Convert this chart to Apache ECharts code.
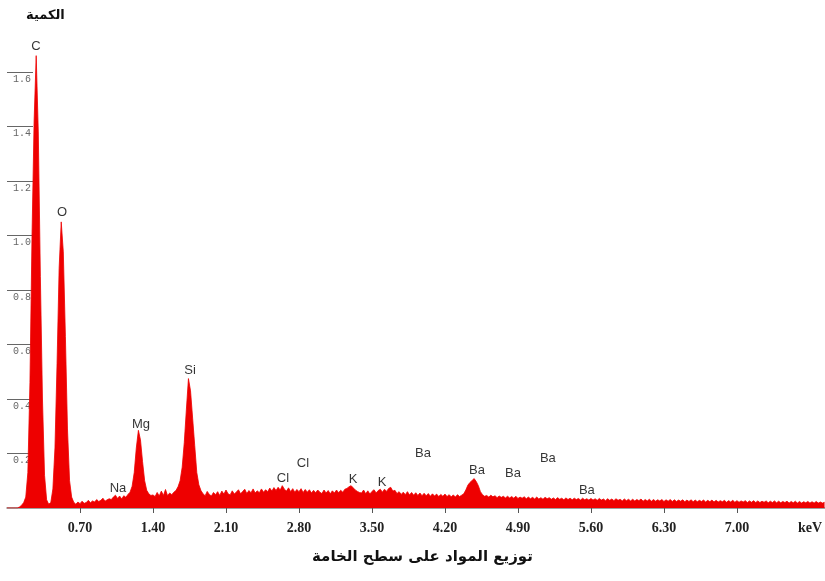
<!DOCTYPE html>
<html>
<head>
<meta charset="utf-8">
<script src="https://cdn.jsdelivr.net/npm/echarts@6/dist/echarts.min.js"></script>
<style>
  html, body { margin: 0; padding: 0; background: #ffffff; }
  #chart { width: 825px; height: 581px; }
</style>
</head>
<body>
<div id="chart"></div>
<script>
// EDS spectrum: counts per channel, channel width 0.02 keV, first channel at 0 keV
const channelStart = 0;
const channelWidth = 0.02;
const counts = [
  0, 0, 0, 0, 0, 0, 0.004, 0.010, 0.020, 0.040,
  0.13, 0.46, 1.00, 1.42, 1.66, 1.38, 0.85, 0.40, 0.12, 0.030,
  0.014, 0.020, 0.07, 0.22, 0.53, 0.88, 1.05, 0.94, 0.63, 0.29,
  0.10, 0.040, 0.021, 0.014, 0.022, 0.016, 0.025, 0.017, 0.020, 0.028,
  0.019, 0.026, 0.022, 0.031, 0.024, 0.028, 0.036, 0.025, 0.030, 0.034,
  0.031, 0.040, 0.047, 0.035, 0.044, 0.033, 0.045, 0.039, 0.050, 0.058,
  0.08, 0.13, 0.22, 0.285, 0.25, 0.17, 0.10, 0.065, 0.052, 0.046,
  0.048, 0.042, 0.057, 0.044, 0.062, 0.046, 0.068, 0.045, 0.055, 0.049,
  0.058, 0.064, 0.078, 0.10, 0.15, 0.24, 0.36, 0.475, 0.43, 0.33,
  0.23, 0.13, 0.085, 0.064, 0.052, 0.045, 0.061, 0.050, 0.044, 0.057,
  0.049, 0.060, 0.046, 0.062, 0.051, 0.066, 0.052, 0.048, 0.063, 0.051,
  0.059, 0.067, 0.052, 0.061, 0.069, 0.053, 0.064, 0.056, 0.070, 0.055,
  0.063, 0.056, 0.070, 0.058, 0.067, 0.060, 0.073, 0.062, 0.075, 0.064,
  0.076, 0.066, 0.082, 0.069, 0.062, 0.074, 0.060, 0.071, 0.058, 0.068,
  0.060, 0.071, 0.057, 0.068, 0.058, 0.067, 0.055, 0.065, 0.056, 0.066,
  0.058, 0.053, 0.066, 0.055, 0.064, 0.052, 0.063, 0.055, 0.066, 0.056,
  0.065, 0.058, 0.069, 0.072, 0.078, 0.082, 0.074, 0.066, 0.061, 0.057,
  0.055, 0.066, 0.052, 0.063, 0.051, 0.061, 0.067, 0.055, 0.064, 0.069,
  0.058, 0.069, 0.061, 0.072, 0.076, 0.062, 0.065, 0.053, 0.060, 0.050,
  0.058, 0.049, 0.060, 0.048, 0.057, 0.047, 0.056, 0.046, 0.055, 0.045,
  0.054, 0.045, 0.053, 0.043, 0.052, 0.044, 0.051, 0.042, 0.050, 0.043,
  0.051, 0.042, 0.049, 0.041, 0.048, 0.040, 0.049, 0.042, 0.047, 0.052,
  0.066, 0.084, 0.094, 0.101, 0.108, 0.097, 0.082, 0.060, 0.049, 0.043,
  0.046, 0.040, 0.047, 0.041, 0.045, 0.038, 0.044, 0.039, 0.043, 0.037,
  0.043, 0.037, 0.042, 0.036, 0.043, 0.035, 0.040, 0.036, 0.041, 0.034,
  0.040, 0.034, 0.039, 0.033, 0.040, 0.033, 0.038, 0.032, 0.039, 0.034,
  0.038, 0.032, 0.037, 0.031, 0.038, 0.032, 0.036, 0.030, 0.037, 0.031,
  0.036, 0.030, 0.036, 0.031, 0.035, 0.029, 0.036, 0.030, 0.034, 0.029,
  0.035, 0.029, 0.034, 0.028, 0.035, 0.029, 0.033, 0.027, 0.034, 0.028,
  0.033, 0.027, 0.034, 0.028, 0.032, 0.026, 0.033, 0.027, 0.032, 0.026,
  0.032, 0.026, 0.031, 0.027, 0.033, 0.025, 0.031, 0.026, 0.032, 0.025,
  0.031, 0.025, 0.030, 0.026, 0.031, 0.024, 0.030, 0.025, 0.031, 0.024,
  0.030, 0.024, 0.029, 0.025, 0.030, 0.023, 0.029, 0.024, 0.030, 0.023,
  0.029, 0.023, 0.028, 0.024, 0.029, 0.022, 0.028, 0.023, 0.029, 0.022,
  0.028, 0.022, 0.027, 0.023, 0.028, 0.021, 0.027, 0.022, 0.028, 0.021,
  0.027, 0.021, 0.026, 0.022, 0.027, 0.020, 0.026, 0.021, 0.027, 0.020,
  0.026, 0.020, 0.025, 0.021, 0.026, 0.019, 0.025, 0.020, 0.026, 0.019,
  0.025, 0.019, 0.024, 0.020, 0.025, 0.018, 0.024, 0.019, 0.025, 0.018,
  0.024, 0.018, 0.023, 0.019, 0.024, 0.018, 0.023, 0.018, 0.024, 0.018,
  0.022, 0.018, 0.021
];

// Element identification labels: name, energy (keV) and height where the text sits
const peakNames    = ['C', 'O', 'Na', 'Mg', 'Si', 'Cl', 'Cl', 'K', 'K', 'Ba', 'Ba', 'Ba', 'Ba', 'Ba'];
const peakEnergies = [0.278, 0.527, 1.064, 1.285, 1.755, 2.646, 2.838, 3.318, 3.596, 3.989, 4.507, 4.852, 5.187, 5.561];
const peakLabelY   = [1.695, 1.083, 0.073, 0.308, 0.506, 0.110, 0.165, 0.106, 0.095, 0.202, 0.139, 0.128, 0.183, 0.066];

// Axis ticks
const xTickValues = [0.70, 1.40, 2.10, 2.80, 3.50, 4.20, 4.90, 5.60, 6.30, 7.00];
const xUnitAt = 7.70;
const yTickValues = [0.2, 0.4, 0.6, 0.8, 1.0, 1.2, 1.4, 1.6];

const yTitle = 'الكمية';
const xTitle = 'توزيع المواد على سطح الخامة';

const spectrum = counts.map((c, i) => [channelStart + i * channelWidth, c]);
const peakPoints = peakNames.map((n, i) => ({ name: n, value: [peakEnergies[i], peakLabelY[i]] }));

const chart = echarts.init(document.getElementById('chart'), null, { renderer: 'canvas' });

chart.setOption({
  animation: false,
  backgroundColor: '#ffffff',
  title: [
    {
      text: yTitle,
      left: 21, top: 4,
      textStyle: { fontFamily: 'DejaVu Sans, Arial, sans-serif', fontSize: 13, fontWeight: 'bold', color: '#111' }
    },
    {
      text: xTitle,
      left: 307, top: 545,
      textStyle: { fontFamily: 'DejaVu Sans, Arial, sans-serif', fontSize: 15, fontWeight: 'bold', color: '#111' }
    }
  ],
  grid: { left: 7, right: 0, top: 17.5, bottom: 73, containLabel: false },
  xAxis: {
    type: 'value',
    min: 0,
    max: 7.84,
    offset: 4,
    splitLine: { show: false },
    axisLine: { show: true, lineStyle: { color: '#808080', width: 1.5 } },
    axisTick: { show: true, length: 5, customValues: xTickValues, lineStyle: { color: '#555', width: 1 } },
    axisLabel: {
      customValues: xTickValues.concat([xUnitAt]),
      formatter: v => (v > 7.6 ? 'keV' : v.toFixed(2)),
      margin: 9,
      fontFamily: 'Liberation Serif, Times New Roman, serif',
      fontWeight: 'bold',
      fontSize: 14,
      color: '#222'
    }
  },
  yAxis: {
    type: 'value',
    min: 0,
    max: 1.8,
    splitLine: { show: false },
    axisLine: { show: false },
    axisTick: { show: true, inside: true, length: 26, customValues: yTickValues, lineStyle: { color: '#666', width: 1 } },
    axisLabel: {
      inside: true,
      customValues: yTickValues,
      formatter: v => v.toFixed(1),
      margin: 6,
      verticalAlign: 'top',
      padding: [2, 0, 0, 0],
      fontFamily: 'Liberation Mono, Courier New, monospace',
      fontSize: 10,
      color: '#666'
    }
  },
  series: [
    {
      type: 'line',
      data: spectrum,
      symbol: 'none',
      sampling: 'none',
      clip: true,
      lineStyle: { color: '#ee0000', width: 0.8 },
      areaStyle: { color: '#ee0000', opacity: 1 },
      z: 2
    },
    {
      type: 'scatter',
      data: peakPoints,
      symbolSize: 0,
      clip: false,
      label: {
        show: true,
        position: 'inside',
        formatter: p => p.name,
        fontFamily: 'Liberation Sans, Arial, sans-serif',
        fontSize: 13,
        color: '#000'
      },
      z: 5
    }
  ]
});
</script>
</body>
</html>
